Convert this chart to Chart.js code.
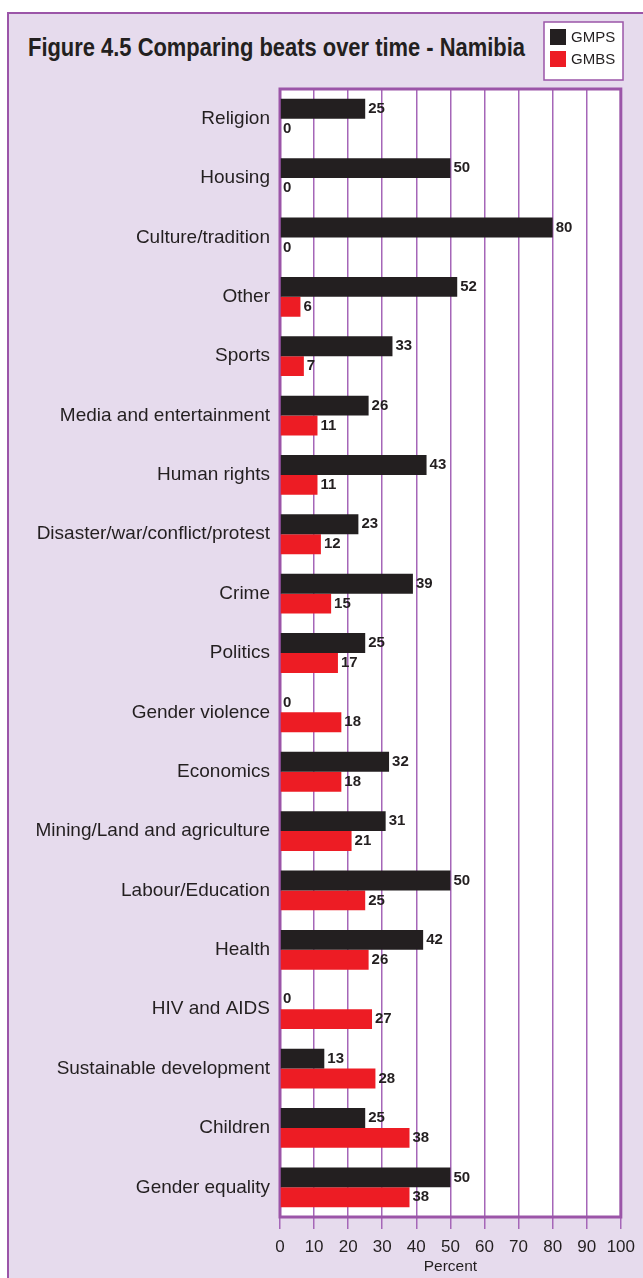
<!DOCTYPE html>
<html>
<head>
<meta charset="utf-8">
<script src="https://cdn.jsdelivr.net/npm/chart.js@4.4.1/dist/chart.umd.min.js"></script>
<style>
  html, body { margin: 0; padding: 0; background: #ffffff; }
  #frame {
    position: absolute; left: 7px; top: 12px; width: 700px; height: 1320px;
    background: #e6dbed; border-left: 2px solid #9b55a8; border-top: 2px solid #9b55a8;
  }
  #title {
    position: absolute; left: 28px; top: 33px; margin: 0;
    font-family: "Liberation Sans", Arial, sans-serif;
    font-weight: bold; font-size: 25px; color: #231f20; white-space: nowrap;
    transform-origin: 0 0;
  }
  #wrap { position: absolute; left: 0; top: 0; width: 643px; height: 1278px; }
</style>
</head>
<body>
<div id="frame"></div>
<span id="title">Figure 4.5 Comparing beats over time - Namibia</span>
<div id="wrap"><canvas id="bar_beats" width="643" height="1278"></canvas></div>
<script>
// data
var beats = ["Religion", "Housing", "Culture/tradition", "Other", "Sports",
    "Media and entertainment", "Human rights", "Disaster/war/conflict/protest",
    "Crime", "Politics", "Gender violence", "Economics", "Mining/Land and agriculture",
    "Labour/Education", "Health", "HIV and AIDS", "Sustainable development",
    "Children", "Gender equality"];
var gmps = [25, 50, 80, 52, 33, 26, 43, 23, 39, 25, 0, 32, 31, 50, 42, 0, 13, 25, 50];
var gmbs = [0, 0, 0, 6, 7, 11, 11, 12, 15, 17, 18, 18, 21, 25, 26, 27, 28, 38, 38];
var xTicks = [0, 10, 20, 30, 40, 50, 60, 70, 80, 90, 100];

var purple = '#9b55a8';
var ink = '#231f20';

// squeeze the title like the narrow face in the original
var t = document.getElementById('title');
t.style.transform = 'scaleX(' + (497 / t.getBoundingClientRect().width) + ')';

// white plot box + thick purple border
var plotBox = {
    id: 'plotBox',
    beforeDraw: function (chart) {
        var a = chart.chartArea, ctx = chart.ctx;
        ctx.save();
        ctx.fillStyle = '#ffffff';
        ctx.fillRect(a.left, a.top, a.right - a.left, a.bottom - a.top);
        ctx.restore();
    },
    beforeDatasetsDraw: function (chart) {
        var a = chart.chartArea, ctx = chart.ctx;
        ctx.save();
        ctx.strokeStyle = purple;
        ctx.lineWidth = 3;
        ctx.strokeRect(a.left, a.top, a.right - a.left, a.bottom - a.top);
        ctx.restore();
    }
};

// numbers at the end of each bar
var barValues = {
    id: 'barValues',
    afterDatasetsDraw: function (chart) {
        var ctx = chart.ctx;
        ctx.save();
        ctx.font = 'bold 15px "Liberation Sans", Arial, sans-serif';
        ctx.fillStyle = ink;
        ctx.textAlign = 'left';
        ctx.textBaseline = 'middle';
        chart.data.datasets.forEach(function (ds, i) {
            chart.getDatasetMeta(i).data.forEach(function (bar, j) {
                ctx.fillText(ds.data[j], bar.x + 3, bar.y);
            });
        });
        ctx.restore();
    }
};

// boxed legend top right
var boxLegend = {
    id: 'boxLegend',
    afterDraw: function (chart) {
        var ctx = chart.ctx;
        ctx.save();
        ctx.fillStyle = '#ffffff';
        ctx.fillRect(544, 22, 79, 58);
        ctx.strokeStyle = purple;
        ctx.lineWidth = 1.5;
        ctx.strokeRect(544, 22, 79, 58);
        ctx.font = '15px "Liberation Sans", Arial, sans-serif';
        ctx.textBaseline = 'middle';
        chart.data.datasets.forEach(function (ds, i) {
            var y = 29 + i * 22;
            ctx.fillStyle = ds.backgroundColor;
            ctx.fillRect(550, y, 16, 16);
            ctx.fillStyle = ink;
            ctx.fillText(ds.label, 571, y + 8.5);
        });
        ctx.restore();
    }
};

new Chart(document.getElementById("bar_beats").getContext("2d"), {
    type: 'bar',
    data: {
        labels: beats,
        datasets: [{
            label: 'GMPS',
            data: gmps,
            backgroundColor: ink,
            categoryPercentage: 0.67,
            barPercentage: 1.0
        }, {
            label: 'GMBS',
            data: gmbs,
            backgroundColor: '#ed1c24',
            categoryPercentage: 0.67,
            barPercentage: 1.0
        }]
    },
    options: {
        indexAxis: 'y',
        responsive: false,
        animation: false,
        layout: { padding: { top: 89, right: 22, bottom: 0, left: 0 } },
        plugins: {
            legend: { display: false },
            tooltip: { enabled: false }
        },
        scales: {
            x: {
                min: 0,
                max: 100,
                afterBuildTicks: function (scale) {
                    scale.ticks = xTicks.map(function (v) { return { value: v }; });
                },
                afterFit: function (scale) { scale.height = 61; },
                grid: { color: '#a566b8', lineWidth: 1.5, tickLength: 12 },
                border: { display: false },
                ticks: {
                    color: ink,
                    padding: 8,
                    maxRotation: 0,
                    font: { family: '"Liberation Sans", Arial, sans-serif', size: 17 }
                },
                title: {
                    display: true,
                    text: 'Percent',
                    color: ink,
                    padding: { top: 0, bottom: 2 },
                    font: { family: '"Liberation Sans", Arial, sans-serif', size: 15.5 }
                }
            },
            y: {
                afterFit: function (scale) { scale.width = 280; },
                grid: { display: false, drawTicks: false },
                border: { display: false },
                ticks: {
                    color: ink,
                    padding: 10,
                    font: { family: '"Liberation Sans", Arial, sans-serif', size: 19 }
                }
            }
        }
    },
    plugins: [plotBox, barValues, boxLegend]
});
</script>
</body>
</html>
